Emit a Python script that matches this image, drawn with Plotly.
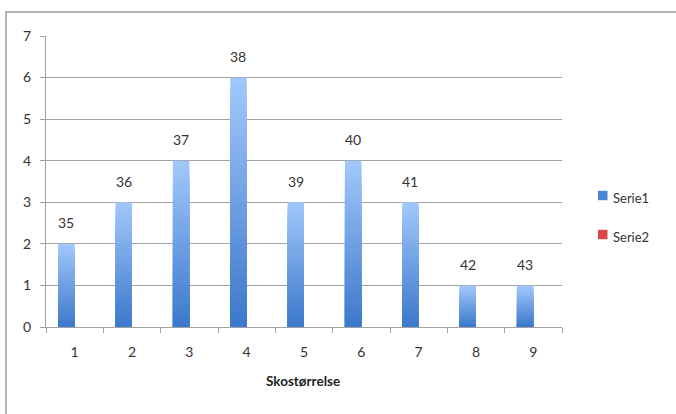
import plotly.graph_objects as go

# Shoe-size survey: count per category, with the shoe size printed above each bar
categories = ["1", "2", "3", "4", "5", "6", "7", "8", "9"]
serie1 = [2, 3, 4, 6, 3, 4, 3, 1, 1]
sizes = [35, 36, 37, 38, 39, 40, 41, 42, 43]
series_names = ["Serie1", "Serie2"]

W, H = 676, 414
L, R, T, B = 46, 114, 36, 87
PW, PH = W - L - R, H - T - B

def px_x(px):
    return (px - L) / PW

def px_y(py):
    return (H - B - py) / PH

FONT = "Lato, Open Sans, sans-serif"
TXT = "#333333"
GRID = "#a2a2a2"

TOP_RGB = (160, 199, 250)
BOT_RGB = (58, 118, 202)

def lerp(a, b, t):
    return "rgb(%d,%d,%d)" % tuple(round(a[i] + (b[i] - a[i]) * t) for i in range(3))

BAR_W = 1 / 3.5  # two series per category, 150% gap

fig = go.Figure()

# vertical gradient: stack progressively shorter, darker bars on top of each other
N = 30
for k in range(N):
    frac = 1 - k / N
    fig.add_trace(go.Bar(
        x=categories,
        y=[v * frac for v in serie1],
        width=BAR_W,
        offset=-BAR_W,
        marker=dict(color=lerp(BOT_RGB, TOP_RGB, frac), line=dict(width=0)),
        showlegend=False,
        hoverinfo="skip",
    ))

# size labels above each bar
for i, (v, s) in enumerate(zip(serie1, sizes)):
    fig.add_annotation(
        x=i - BAR_W / 2, y=v, xref="x", yref="y",
        text=str(s), showarrow=False, yshift=21, yanchor="middle",
        font=dict(family=FONT, size=14, color=TXT),
    )

# legend drawn beside the plot
legend_colors = ["#4a86d6", "#d9474a"]
legend_rows = [195.5, 234.5]
for name, col, yc in zip(series_names, legend_colors, legend_rows):
    fig.add_shape(type="rect", xref="paper", yref="paper",
                  x0=px_x(598), x1=px_x(607.5), y0=px_y(yc + 4.7), y1=px_y(yc - 4.7),
                  fillcolor=col, line=dict(width=0))
    fig.add_annotation(xref="paper", yref="paper", x=px_x(610.5), y=px_y(yc + 2),
                       text=name, showarrow=False, xanchor="left", yanchor="middle",
                       font=dict(family=FONT, size=13, color=TXT))

# chart frame
fig.add_shape(type="rect", xref="paper", yref="paper",
              x0=px_x(6), x1=px_x(W + 10), y0=px_y(H + 10), y1=px_y(12),
              line=dict(color="#b3b3b3", width=2), fillcolor="rgba(0,0,0,0)",
              layer="below")

fig.add_annotation(xref="paper", yref="paper", x=px_x(303), y=px_y(381),
                   text="<b>Skostørrelse</b>", showarrow=False,
                   xanchor="center", yanchor="middle",
                   font=dict(family=FONT, size=13.5, color="#222222"))

fig.update_layout(
    width=W, height=H,
    margin=dict(l=L, r=R, t=T, b=B, pad=0),
    barmode="overlay",
    plot_bgcolor="white", paper_bgcolor="white",
    showlegend=False,
    xaxis=dict(
        type="category", categoryorder="array", categoryarray=categories,
        range=[-0.5, 8.5], tickson="boundaries",
        ticks="outside", ticklen=5, tickcolor=GRID, tickwidth=1.4,
        showline=True, linecolor=GRID, linewidth=1.4,
        showgrid=False, ticklabelstandoff=12,
        tickfont=dict(family=FONT, size=14, color=TXT),
    ),
    yaxis=dict(
        range=[0, 7], dtick=1, tick0=0,
        ticks="outside", ticklen=5, tickcolor=GRID, tickwidth=1.4,
        showline=True, linecolor=GRID, linewidth=1.4,
        showgrid=True, gridcolor=GRID, gridwidth=1.4,
        zeroline=False, ticklabelstandoff=6,
        tickfont=dict(family=FONT, size=14, color=TXT),
    ),
)

fig.write_html("out.html")
